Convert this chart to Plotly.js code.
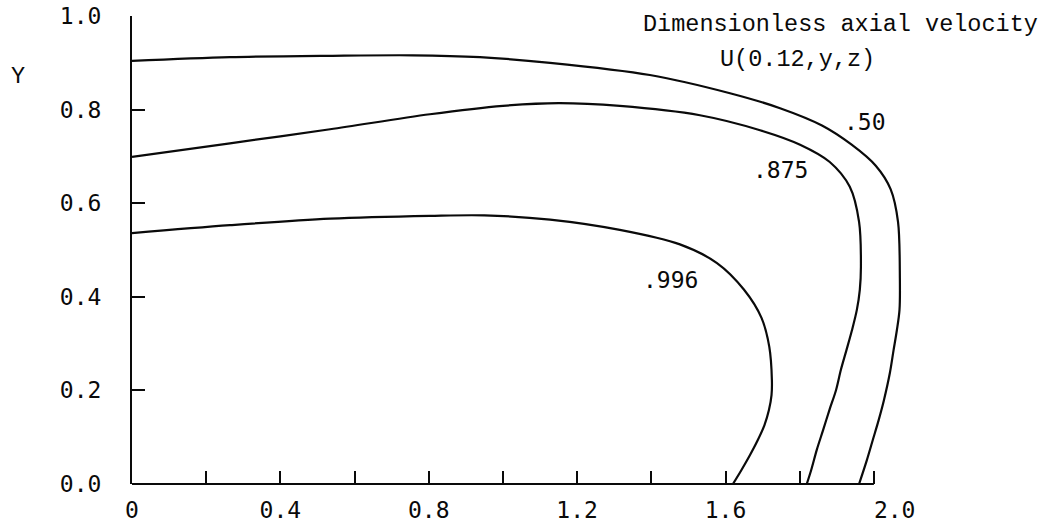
<!DOCTYPE html>
<html>
<head>
<meta charset="utf-8">
<script src="https://cdn.plot.ly/plotly-3.0.1.min.js"></script>
<style>html,body{margin:0;padding:0;background:#fff;}#chart{width:1047px;height:528px;}</style>
</head>
<body>
<div id="chart"></div>
<script>
// Contour levels of dimensionless axial velocity U(0.12,y,z)
const levels = ['.50', '.875', '.996'];

// Contour .50 (outer)
const c50Z = [0, 0.264, 0.534, 0.757, 0.938, 1.127, 1.396, 1.612, 1.747, 1.860, 1.940, 2.005, 2.045, 2.065, 2.070, 2.069, 2.062, 2.053, 2.043, 2.027, 2.013, 1.997, 1.981, 1.960];
const c50Y = [0.904, 0.912, 0.915, 0.916, 0.912, 0.900, 0.874, 0.835, 0.803, 0.766, 0.725, 0.680, 0.630, 0.560, 0.440, 0.372, 0.329, 0.286, 0.237, 0.179, 0.137, 0.094, 0.051, 0.0];

// Contour .875 (middle)
const c875Z = [0, 0.264, 0.534, 0.803, 1.000, 1.150, 1.315, 1.531, 1.693, 1.801, 1.881, 1.935, 1.960, 1.965, 1.962, 1.954, 1.941, 1.926, 1.911, 1.898, 1.880, 1.863, 1.846, 1.831, 1.819];
const c875Y = [0.699, 0.728, 0.758, 0.790, 0.808, 0.814, 0.808, 0.788, 0.756, 0.725, 0.688, 0.635, 0.560, 0.464, 0.415, 0.372, 0.329, 0.286, 0.244, 0.201, 0.158, 0.115, 0.073, 0.030, 0.0];

// Contour .996 (inner)
const c996Z = [0, 0.264, 0.534, 0.803, 0.950, 1.127, 1.315, 1.477, 1.577, 1.650, 1.697, 1.718, 1.725, 1.724, 1.717, 1.705, 1.687, 1.666, 1.643, 1.620];
const c996Y = [0.536, 0.553, 0.567, 0.573, 0.574, 0.565, 0.543, 0.512, 0.472, 0.415, 0.355, 0.293, 0.222, 0.190, 0.158, 0.126, 0.094, 0.062, 0.030, 0.0];

// Axis ticks
const xTickVals = [0, 0.2, 0.4, 0.6, 0.8, 1.0, 1.2, 1.4, 1.6, 1.8, 2.0];
const xTickText = ['0', '', '0.4', '', '0.8', '', '1.2', '', '1.6', '', '\u00a0\u00a0\u00a02.0'];
const yTickVals = [0, 0.2, 0.4, 0.6, 0.8, 1.0];
const yTickText = ['0.0', '0.2', '0.4', '0.6', '0.8', '1.0'];

const ink = '#0a0a0a';
const lineStyle = {color: ink, width: 2.2, shape: 'spline', smoothing: 0.9};

const traces = [
  {x: c50Z, y: c50Y, mode: 'lines', line: lineStyle, name: levels[0], hoverinfo: 'skip'},
  {x: c875Z, y: c875Y, mode: 'lines', line: lineStyle, name: levels[1], hoverinfo: 'skip'},
  {x: c996Z, y: c996Y, mode: 'lines', line: lineStyle, name: levels[2], hoverinfo: 'skip'}
];

const tickFont = {family: 'DejaVu Sans Mono', size: 23, color: ink};
const textFont = {family: 'Liberation Mono', size: 23.5, color: ink};

const layout = {
  width: 1047, height: 528,
  margin: {l: 132, r: 136, t: 16, b: 44},
  paper_bgcolor: '#fff', plot_bgcolor: '#fff',
  showlegend: false,
  xaxis: {
    range: [0, 2.1], showgrid: false, zeroline: false, showline: false,
    tickmode: 'array', tickvals: xTickVals, ticktext: xTickText,
    ticks: 'inside', ticklen: 13, tickwidth: 2, tickcolor: ink,
    tickfont: tickFont, ticklabelstandoff: 10
  },
  yaxis: {
    range: [0, 1.0], showgrid: false, zeroline: false,
    showline: true, linecolor: ink, linewidth: 2,
    tickmode: 'array', tickvals: yTickVals, ticktext: yTickText,
    ticks: 'inside', ticklen: 13, tickwidth: 2, tickcolor: ink,
    tickfont: tickFont, ticklabelstandoff: 24
  },
  shapes: [
    {type: 'line', xref: 'x', yref: 'paper', x0: 0, x1: 2.0, y0: 0, y1: 0,
     line: {color: ink, width: 2}}
  ],
  annotations: [
    {text: 'Y', xref: 'paper', yref: 'paper', x: -0.146, xanchor: 'center', y: 0.87, yanchor: 'middle', showarrow: false, font: textFont},
    {text: 'Dimensionless axial velocity', xref: 'paper', yref: 'paper', x: 1.166, xanchor: 'right', y: 0.981, yanchor: 'middle', showarrow: false, font: textFont},
    {text: 'U(0.12,y,z)', xref: 'paper', yref: 'paper', x: 0.854, xanchor: 'center', y: 0.906, yanchor: 'middle', showarrow: false, font: textFont},
    {text: levels[0], xref: 'x', yref: 'y', x: 1.976, y: 0.774, xanchor: 'center', yanchor: 'middle', showarrow: false, font: tickFont},
    {text: levels[1], xref: 'x', yref: 'y', x: 1.747, y: 0.671, xanchor: 'center', yanchor: 'middle', showarrow: false, font: tickFont},
    {text: levels[2], xref: 'x', yref: 'y', x: 1.453, y: 0.436, xanchor: 'center', yanchor: 'middle', showarrow: false, font: tickFont}
  ]
};

Plotly.newPlot('chart', traces, layout, {staticPlot: true, displayModeBar: false});
</script>
</body>
</html>
